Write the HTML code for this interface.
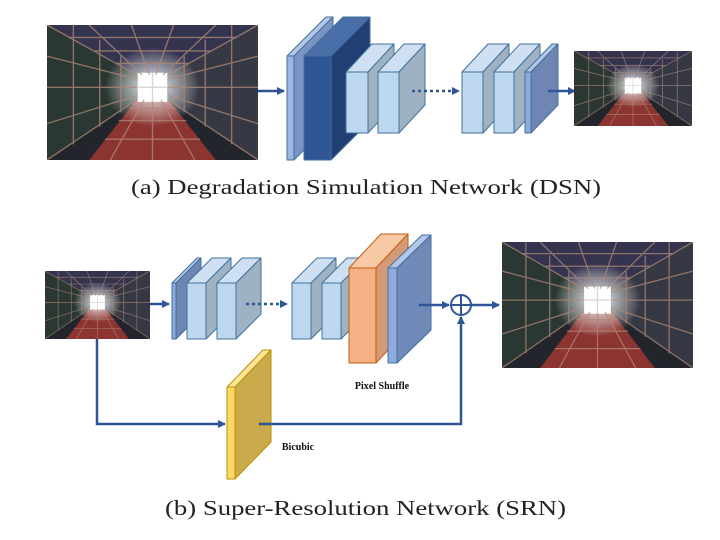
<!DOCTYPE html>
<html><head><meta charset="utf-8"><style>
html,body{margin:0;padding:0;background:#fff;}
svg{display:block;}
</style></head><body>
<svg width="720" height="540" viewBox="0 0 720 540" xmlns="http://www.w3.org/2000/svg">
<defs>
<marker id="ah" markerWidth="8" markerHeight="8" refX="7" refY="4" orient="auto" markerUnits="userSpaceOnUse">
<path d="M0,0 L8,4 L0,8 Z" fill="#2f5597"/></marker>
<radialGradient id="glow" cx="0.5" cy="0.5" r="0.5">
<stop offset="0" stop-color="#fff" stop-opacity="1"/>
<stop offset="0.35" stop-color="#e8eef0" stop-opacity="0.7"/>
<stop offset="1" stop-color="#fff" stop-opacity="0"/></radialGradient>
<symbol id="tun" viewBox="0 0 200 130" preserveAspectRatio="none">
<rect width="200" height="130" fill="#23252c"/>
<polygon points="0,0 200,0 115,48 85,48" fill="#35344f"/>
<polygon points="0,0 85,48 85,72 0,130" fill="#2a3733"/>
<polygon points="200,0 115,48 115,72 200,130" fill="#363944"/>
<polygon points="85,72 115,72 160,130 40,130" fill="#8c3431"/>
<ellipse cx="100" cy="60" rx="45" ry="38" fill="url(#glow)"/>
<rect x="86" y="46" width="28" height="28" fill="#fff"/>
<g stroke="#b08a78" stroke-width="1.3" opacity="0.75" fill="none">
<path d="M0,0 L85,48 M200,0 L115,48 M0,130 L85,72 M200,130 L115,72"/>
<path d="M0,30 L85,52 M0,60 L85,60 M0,95 L85,68 M200,30 L115,52 M200,60 L115,60 M200,95 L115,68"/>
<path d="M40,0 L90,48 M80,0 L97,48 M120,0 L103,48 M160,0 L110,48"/>
<path d="M20,12 L180,12 M45,25 L155,25 M65,37 L135,37"/>
<path d="M60,130 L92,72 M100,130 L100,72 M140,130 L108,72"/>
<path d="M55,110 L145,110 M68,92 L132,92 M78,80 L122,80"/>
<path d="M25,0 L25,115 M50,14 L50,98 M70,30 L70,84 M175,0 L175,115 M150,14 L150,98 M130,30 L130,84"/>
<path d="M86,60 L114,60 M100,46 L100,74" stroke="#c9c9c9"/>
</g>
</symbol>
</defs>

<use href="#tun" x="47" y="25" width="211" height="135"/>
<line x1="258" y1="91" x2="284" y2="91" stroke="#2f5597" stroke-width="2.5" marker-end="url(#ah)"/>

<g stroke="#41719c" stroke-width="1" stroke-linejoin="round">
<polygon points="287,56 326,17 333,17 294,56" fill="#b4c7e7"/>
<polygon points="294,56 333,17 333,121 294,160" fill="#7a95c4"/>
<rect x="287" y="56" width="7" height="104" fill="#9db5e0"/>
<polygon points="304,56 343,17 370,17 331,56" fill="#4a6ea8"/>
<polygon points="331,56 370,17 370,121 331,160" fill="#223f73"/>
<rect x="304" y="56" width="27" height="104" fill="#2f5597"/>
<polygon points="346,72 372,44 394,44 368,72" fill="#cfe0f3"/>
<polygon points="368,72 394,44 394,105 368,133" fill="#9fb2c4"/>
<rect x="346" y="72" width="22" height="61" fill="#bdd7ee"/>
<polygon points="378,72 404,44 425,44 399,72" fill="#cfe0f3"/>
<polygon points="399,72 425,44 425,105 399,133" fill="#9fb2c4"/>
<rect x="378" y="72" width="21" height="61" fill="#bdd7ee"/>
<polygon points="462,72 488,44 509,44 483,72" fill="#cfe0f3"/>
<polygon points="483,72 509,44 509,105 483,133" fill="#9fb2c4"/>
<rect x="462" y="72" width="21" height="61" fill="#bdd7ee"/>
<polygon points="494,72 520,44 540,44 514,72" fill="#cfe0f3"/>
<polygon points="514,72 540,44 540,105 514,133" fill="#9fb2c4"/>
<rect x="494" y="72" width="20" height="61" fill="#bdd7ee"/>
<polygon points="525,72 552,44 558,44 531,72" fill="#b4c7e7"/>
<polygon points="531,72 558,44 558,105 531,133" fill="#6f86b5"/>
<rect x="525" y="72" width="6" height="61" fill="#8faadc"/>
</g>
<line x1="412" y1="91" x2="459" y2="91" stroke="#2f5597" stroke-width="2.5" stroke-dasharray="3,3" marker-end="url(#ah)"/>
<line x1="548" y1="91" x2="575" y2="91" stroke="#2f5597" stroke-width="2.5" marker-end="url(#ah)"/>
<use href="#tun" x="574" y="51" width="118" height="75"/>

<text x="131" y="194" textLength="470" lengthAdjust="spacingAndGlyphs" font-family="Liberation Serif, serif" font-size="21" fill="#222">(a) Degradation Simulation Network (DSN)</text>

<use href="#tun" x="45" y="271" width="105" height="68"/>
<line x1="150" y1="304" x2="169" y2="304" stroke="#2f5597" stroke-width="2.5" marker-end="url(#ah)"/>
<g stroke="#41719c" stroke-width="1" stroke-linejoin="round">
<polygon points="172,283 197,258 201,258 176,283" fill="#b4c7e7"/>
<polygon points="176,283 201,258 201,314 176,339" fill="#6f86b5"/>
<rect x="172" y="283" width="4" height="56" fill="#8faadc"/>
<polygon points="187,283 212,258 231,258 206,283" fill="#cfe0f3"/>
<polygon points="206,283 231,258 231,314 206,339" fill="#9fb2c4"/>
<rect x="187" y="283" width="19" height="56" fill="#bdd7ee"/>
<polygon points="217,283 242,258 261,258 236,283" fill="#cfe0f3"/>
<polygon points="236,283 261,258 261,314 236,339" fill="#9fb2c4"/>
<rect x="217" y="283" width="19" height="56" fill="#bdd7ee"/>
<polygon points="292,283 317,258 336,258 311,283" fill="#cfe0f3"/>
<polygon points="311,283 336,258 336,314 311,339" fill="#9fb2c4"/>
<rect x="292" y="283" width="19" height="56" fill="#bdd7ee"/>
<polygon points="322,283 347,258 366,258 341,283" fill="#cfe0f3"/>
<polygon points="341,283 366,258 366,314 341,339" fill="#9fb2c4"/>
<rect x="322" y="283" width="19" height="56" fill="#bdd7ee"/>
</g>
<g stroke="#c55a11" stroke-width="1" stroke-linejoin="round">
<polygon points="349,268 381,234 408,234 376,268" fill="#f8c9a5"/>
<polygon points="376,268 408,234 408,329 376,363" fill="#d39a77"/>
<rect x="349" y="268" width="27" height="95" fill="#f4b183"/>
</g>
<g stroke="#41719c" stroke-width="1" stroke-linejoin="round">
<polygon points="388,268 422,235 431,235 397,268" fill="#b4c7e7"/>
<polygon points="397,268 431,235 431,330 397,363" fill="#7189b8"/>
<rect x="388" y="268" width="9" height="95" fill="#8faadc"/>
</g>
<line x1="246" y1="304" x2="287" y2="304" stroke="#2f5597" stroke-width="2.5" stroke-dasharray="3,3" marker-end="url(#ah)"/>
<line x1="419" y1="305" x2="449" y2="305" stroke="#2f5597" stroke-width="2.5" marker-end="url(#ah)"/>
<circle cx="461" cy="305" r="10" fill="#fff" stroke="#2f5597" stroke-width="2"/>
<line x1="451" y1="305" x2="471" y2="305" stroke="#2f5597" stroke-width="2"/>
<line x1="461" y1="295" x2="461" y2="315" stroke="#2f5597" stroke-width="2"/>
<line x1="471" y1="305" x2="499" y2="305" stroke="#2f5597" stroke-width="2.5" marker-end="url(#ah)"/>
<use href="#tun" x="502" y="242" width="191" height="126"/>

<polyline points="97,339 97,424 225,424" fill="none" stroke="#2f5597" stroke-width="2.5" marker-end="url(#ah)"/>
<g stroke="#bf9000" stroke-width="1" stroke-linejoin="round">
<polygon points="227,387 263,350 271,350 235,387" fill="#ffe699"/>
<polygon points="235,387 271,350 271,442 235,479" fill="#c9ab4c"/>
<rect x="227" y="387" width="8" height="92" fill="#ffd966"/>
</g>
<polyline points="259,424 461,424 461,317" fill="none" stroke="#2f5597" stroke-width="2.5" marker-end="url(#ah)"/>

<text x="382" y="389" text-anchor="middle" font-family="Liberation Serif, serif" font-weight="bold" font-size="10" fill="#111">Pixel Shuffle</text>
<text x="298" y="450" text-anchor="middle" font-family="Liberation Serif, serif" font-weight="bold" font-size="10" fill="#111">Bicubic</text>

<text x="165" y="515" textLength="401" lengthAdjust="spacingAndGlyphs" font-family="Liberation Serif, serif" font-size="21" fill="#222">(b) Super-Resolution Network (SRN)</text>
</svg>
</body></html>
